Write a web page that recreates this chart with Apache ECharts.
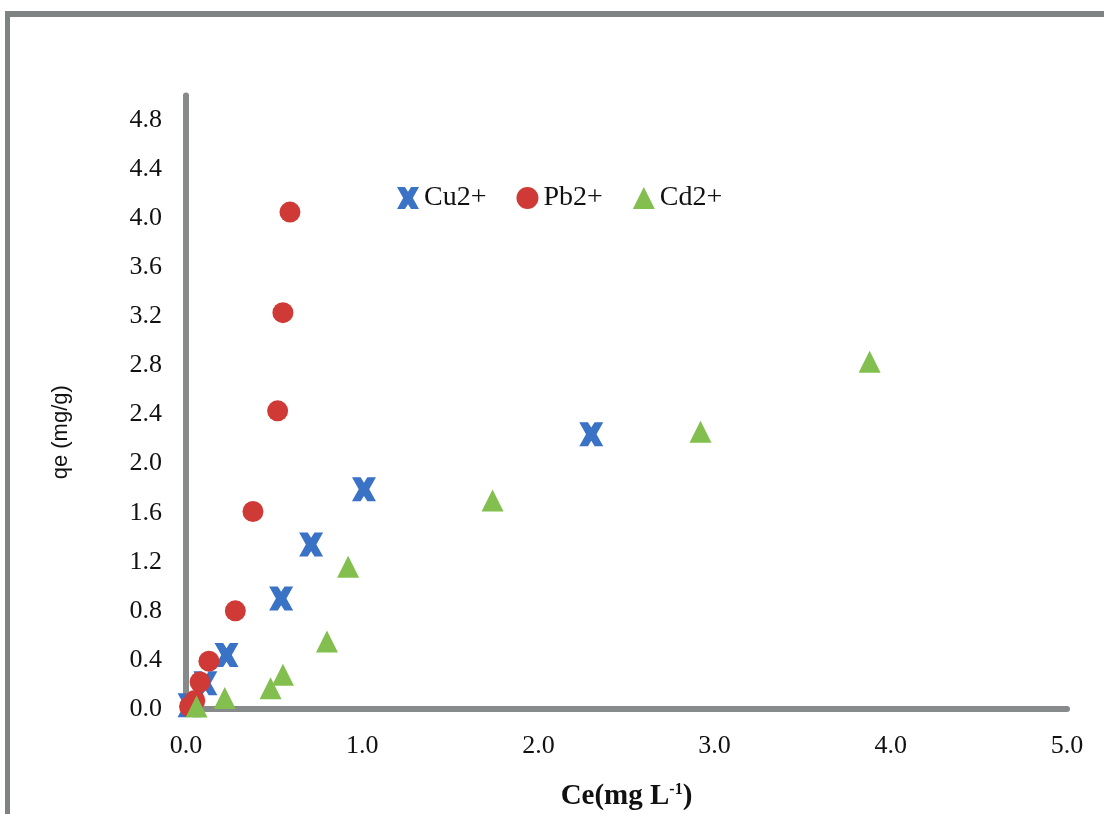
<!DOCTYPE html>
<html>
<head>
<meta charset="utf-8">
<script src="https://cdn.jsdelivr.net/npm/echarts@6/dist/echarts.min.js"></script>
<style>html,body{margin:0;padding:0;background:#fff}#c{width:1104px;height:814px}</style>
</head>
<body>
<div id="c"></div>
<script>
const seriesNames = ['Cu2+', 'Pb2+', 'Cd2+'];
const cuCe = [0.02, 0.11, 0.23, 0.54, 0.71, 1.01, 2.30];
const cuQe = [0.03, 0.21, 0.44, 0.90, 1.34, 1.79, 2.24];
const pbCe = [0.02, 0.05, 0.08, 0.13, 0.28, 0.38, 0.52, 0.55, 0.59];
const pbQe = [0.02, 0.07, 0.22, 0.39, 0.80, 1.61, 2.43, 3.23, 4.05];
const cdCe = [0.06, 0.22, 0.48, 0.55, 0.80, 0.92, 1.74, 2.92, 3.88];
const cdQe = [0.02, 0.09, 0.17, 0.28, 0.55, 1.16, 1.70, 2.26, 2.83];
const xTicks = [0, 1, 2, 3, 4, 5];
const yTicks = [0, 0.4, 0.8, 1.2, 1.6, 2.0, 2.4, 2.8, 3.2, 3.6, 4.0, 4.4, 4.8];

const zip = (a, b) => a.map((v, i) => [v, b[i]]);
const X_PATH = 'path://M0,0 L3.6,0 L5,2.2 L6.4,0 L10,0 L7.2,5 L10,10 L6.4,10 L5,7.8 L3.6,10 L0,10 L2.8,5 Z';
const serif = '"Liberation Serif", "Times New Roman", serif';

const chart = echarts.init(document.getElementById('c'));
chart.setOption({
  backgroundColor: '#fff',
  animation: false,
  graphic: [
    { type: 'rect', shape: { x: 5, y: 11, width: 1099, height: 6 }, style: { fill: '#7f8282' } },
    { type: 'rect', shape: { x: 5, y: 11, width: 5, height: 803 }, style: { fill: '#7f8282' } }
  ],
  legend: {
    left: 392, top: 179,
    itemGap: 30, itemWidth: 22, itemHeight: 22,
    textStyle: { fontFamily: serif, fontSize: 28, color: '#111' },
    data: [
      { name: seriesNames[0], icon: X_PATH },
      { name: seriesNames[1], icon: 'circle' },
      { name: seriesNames[2], icon: 'triangle' }
    ]
  },
  grid: { left: 186, right: 37, top: 95.5, bottom: 105, containLabel: false, outerBoundsMode: 'none' },
  xAxis: {
    type: 'value', min: xTicks[0], max: xTicks[xTicks.length - 1], interval: 1,
    name: 'Ce(mg L{sup|-1})', nameLocation: 'middle', nameGap: 73,
    nameTextStyle: {
      fontFamily: serif, fontSize: 29, fontWeight: 'bold', color: '#111',
      rich: { sup: { fontFamily: serif, fontSize: 16, fontWeight: 'bold', verticalAlign: 'top', padding: [0, 0, 12, 0], color: '#111' } }
    },
    axisLine: { show: true, onZero: false, lineStyle: { color: '#878a8a', width: 6 } },
    axisTick: { show: false },
    splitLine: { show: false },
    axisLabel: { margin: 24, fontFamily: serif, fontSize: 26, color: '#111', formatter: v => v.toFixed(1) }
  },
  yAxis: {
    type: 'value', min: yTicks[0], max: 5, interval: 0.4,
    name: 'qe (mg/g)', nameLocation: 'middle', nameGap: 114, nameRotate: 90,
    nameTextStyle: { fontFamily: '"Liberation Sans", Arial, sans-serif', fontSize: 22, color: '#111', padding: [0, 60, 0, 0] },
    axisLine: { show: true, onZero: false, lineStyle: { color: '#878a8a', width: 6 } },
    axisTick: { show: false },
    splitLine: { show: false },
    axisLabel: { margin: 24, showMaxLabel: false, fontFamily: serif, fontSize: 26, color: '#111', formatter: v => v.toFixed(1) }
  },
  series: [
    { name: seriesNames[0], type: 'scatter', symbol: X_PATH, symbolSize: 24, data: zip(cuCe, cuQe), itemStyle: { color: '#3a72c6', opacity: 1 } },
    { name: seriesNames[1], type: 'scatter', symbol: 'circle', symbolSize: 21, data: zip(pbCe, pbQe), itemStyle: { color: '#cf3a36', opacity: 1 } },
    { name: seriesNames[2], type: 'scatter', symbol: 'triangle', symbolSize: 22, data: zip(cdCe, cdQe), itemStyle: { color: '#82bf4e', opacity: 1 } }
  ]
});
</script>
</body>
</html>
